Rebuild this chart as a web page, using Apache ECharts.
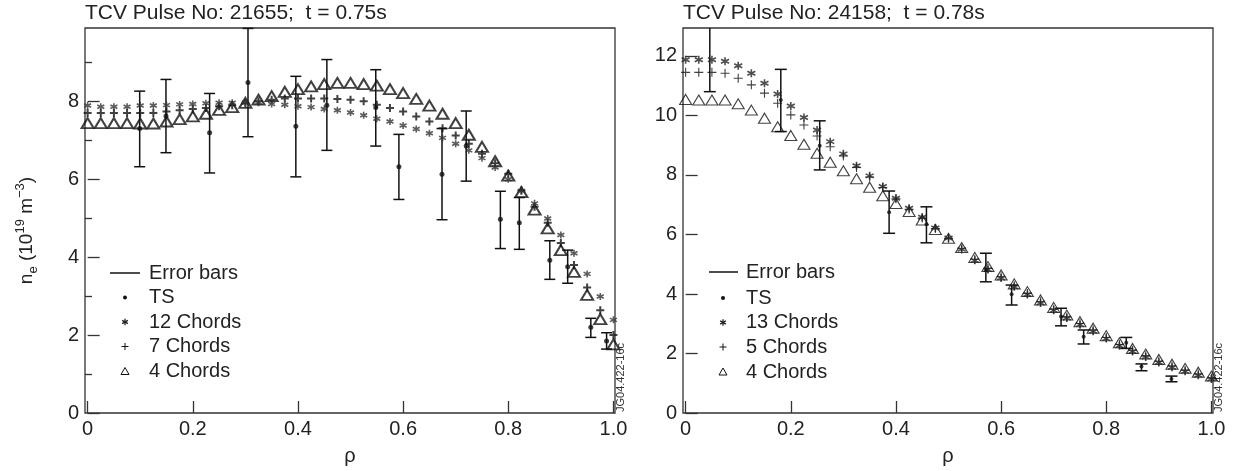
<!DOCTYPE html>
<html><head><meta charset="utf-8">
<script src="https://cdn.jsdelivr.net/npm/echarts@6/dist/echarts.min.js"></script>
<style>html,body{margin:0;padding:0;background:#fff}#c{width:1239px;height:471px}</style>
</head><body><div id="c"></div>
<script>
// ---------- data ----------
const rho = [0,0.025,0.05,0.075,0.1,0.125,0.15,0.175,0.2,0.225,0.25,0.275,0.3,0.325,0.35,0.375,0.4,0.425,0.45,0.475,0.5,0.525,0.55,0.575,0.6,0.625,0.65,0.675,0.7,0.725,0.75,0.775,0.8,0.825,0.85,0.875,0.9,0.925,0.95,0.975,1.0];

// Pulse 21655 (left)
const left12 = [7.89,7.86,7.86,7.86,7.89,7.89,7.9,7.92,7.93,7.95,7.96,7.96,7.97,7.96,7.93,7.91,7.87,7.85,7.8,7.77,7.71,7.64,7.55,7.48,7.38,7.29,7.18,7.06,6.91,6.74,6.54,6.3,6.0,5.7,5.38,4.99,4.57,4.1,3.57,2.99,2.39];
const left7 = [7.7,7.7,7.7,7.7,7.7,7.7,7.74,7.77,7.8,7.83,7.87,7.9,7.94,8.0,8.04,8.07,8.07,8.07,8.07,8.06,8.04,8.0,7.91,7.83,7.74,7.61,7.48,7.31,7.12,6.91,6.65,6.41,6.14,5.71,5.29,4.88,4.36,3.8,3.22,2.64,2.0];
const left4 = [7.44,7.44,7.44,7.44,7.43,7.43,7.48,7.54,7.61,7.68,7.78,7.85,7.96,8.04,8.13,8.24,8.31,8.38,8.44,8.47,8.47,8.44,8.4,8.31,8.21,8.06,7.89,7.68,7.44,7.14,6.83,6.46,6.09,5.67,5.22,4.74,4.18,3.62,3.03,2.41,1.76];
const leftTSrho = [0.099,0.149,0.232,0.305,0.396,0.455,0.548,0.592,0.674,0.72,0.785,0.821,0.879,0.913,0.957,0.987];
const leftTSval = [7.3,7.62,7.19,8.48,7.36,7.9,7.84,6.32,6.13,6.85,4.97,4.88,3.92,3.75,2.2,1.85];
const leftTSlo  = [6.32,6.68,6.16,7.09,6.06,6.74,6.85,5.48,4.96,5.95,4.22,4.2,3.43,3.33,1.94,1.64];
const leftTShi  = [8.26,8.56,8.2,9.87,8.64,9.07,8.81,7.15,7.3,7.75,5.69,5.53,4.42,4.18,2.43,2.06];

// Pulse 24158 (right)
const right13 = [11.87,11.87,11.87,11.82,11.67,11.42,11.08,10.72,10.32,9.93,9.51,9.12,8.71,8.31,7.97,7.61,7.22,6.88,6.58,6.22,5.88,5.5,5.13,4.82,4.54,4.24,3.98,3.7,3.45,3.19,2.97,2.75,2.5,2.26,2.07,1.88,1.7,1.54,1.4,1.27,1.14];
const right5 = [11.45,11.45,11.45,11.42,11.25,11.03,10.75,10.41,10.02,9.68,9.31,8.95,8.64,8.25,7.93,7.58,7.2,6.85,6.55,6.2,5.87,5.52,5.17,4.86,4.58,4.28,4.02,3.74,3.49,3.23,3.01,2.79,2.54,2.3,2.11,1.92,1.74,1.58,1.44,1.31,1.18];
const right4 = [10.54,10.52,10.52,10.52,10.39,10.18,9.91,9.62,9.33,9.03,8.73,8.43,8.14,7.87,7.59,7.3,7.04,6.77,6.49,6.17,5.87,5.56,5.23,4.92,4.64,4.34,4.08,3.8,3.55,3.29,3.07,2.85,2.6,2.36,2.17,1.98,1.8,1.64,1.5,1.37,1.24];
const rightTSrho = [0.046,0.181,0.255,0.387,0.458,0.571,0.62,0.714,0.757,0.838,0.867,0.924];
const rightTSval = [13.4,10.52,8.98,6.75,6.34,4.81,3.99,3.24,2.56,2.36,1.56,1.14];
const rightTSlo  = [10.8,9.46,8.17,6.04,5.72,4.41,3.63,2.93,2.32,2.17,1.42,1.05];
const rightTShi  = [16.0,11.55,9.82,7.46,6.93,5.37,4.3,3.52,2.79,2.54,1.65,1.24];

// tick labels / texts
const xTicks = [0,0.2,0.4,0.6,0.8,1.0];
const leftYTicks = [0,2,4,6,8];
const leftYMinor = [1,3,5,7,9];
const rightYTicks = [0,2,4,6,8,10,12];
const titles = ['TCV Pulse No: 21655;  t = 0.75s','TCV Pulse No: 24158;  t = 0.78s'];
const leftLegend = ['Error bars','TS','12 Chords','7 Chords','4 Chords'];
const rightLegend = ['Error bars','TS','13 Chords','5 Chords','4 Chords'];
const figCode = 'JG04.422-16c';

// ---------- chart ----------
const FONT = '"Liberation Sans", Arial, Helvetica, sans-serif';
const INK = '#222';
const ASTER = 'path://M5,0L5,10M0.67,2.5L9.33,7.5M0.67,7.5L9.33,2.5';
const PLUS = 'path://M5,0L5,10M0,5L10,5';

const pts = (xs, ys) => xs.map((x, i) => [x, ys[i]]);
const bars = (xs, lo, hi) => xs.map((x, i) => [x, lo[i], hi[i]]);

function errRender(capW) {
  return function (params, api) {
    const x = api.value(0), lo = api.value(1), hi = api.value(2);
    const a = api.coord([x, hi]), b = api.coord([x, lo]);
    const r = params.coordSys;
    const top = Math.max(a[1], r.y), bot = Math.min(b[1], r.y + r.height);
    const st = { stroke: '#111', lineWidth: 1.5 };
    const ch = [];
    if (bot > top) ch.push({ type: 'line', shape: { x1: a[0], y1: top, x2: a[0], y2: bot }, style: st });
    if (a[1] >= r.y - 0.6) ch.push({ type: 'line', shape: { x1: a[0] - capW / 2, y1: a[1], x2: a[0] + capW / 2, y2: a[1] }, style: st });
    if (b[1] >= r.y) ch.push({ type: 'line', shape: { x1: b[0] - capW / 2, y1: b[1], x2: b[0] + capW / 2, y2: b[1] }, style: st });
    return { type: 'group', children: ch };
  };
}

function xAxisDef(gi) {
  return {
    gridIndex: gi, type: 'value', min: -0.005, max: 1.003,
    axisLine: { show: false }, splitLine: { show: false },
    axisTick: { inside: true, length: 12, customValues: xTicks, lineStyle: { color: '#333', width: 1.3 } },
    axisLabel: { customValues: xTicks, margin: 6, fontSize: 20, color: INK, fontFamily: FONT,
      formatter: v => (v === 0 ? '0' : v.toFixed(1)) },
    name: 'ρ', nameLocation: 'middle', nameGap: 33,
    nameTextStyle: { fontSize: 20, color: INK, fontFamily: FONT }
  };
}

function legendEls(lx1, lx2, mx, tx, ys, labels) {
  const els = [];
  const st = { stroke: '#111', lineWidth: 1, fill: 'none' };
  els.push({ type: 'line', shape: { x1: lx1, y1: ys[0], x2: lx2, y2: ys[0] }, style: { stroke: '#111', lineWidth: 1.5 } });
  els.push({ type: 'circle', shape: { cx: mx, cy: ys[1], r: 2 }, style: { fill: '#111' } });
  const ar = 3.3;
  [90, 30, 150].forEach(d => {
    const t = d * Math.PI / 180;
    els.push({ type: 'line', shape: { x1: mx - ar * Math.cos(t), y1: ys[2] - ar * Math.sin(t), x2: mx + ar * Math.cos(t), y2: ys[2] + ar * Math.sin(t) }, style: { stroke: '#222', lineWidth: 1.3 } });
  });
  els.push({ type: 'line', shape: { x1: mx - 3.5, y1: ys[3], x2: mx + 3.5, y2: ys[3] }, style: st });
  els.push({ type: 'line', shape: { x1: mx, y1: ys[3] - 3.5, x2: mx, y2: ys[3] + 3.5 }, style: st });
  els.push({ type: 'polygon', shape: { points: [[mx - 4, ys[4] + 3], [mx + 4, ys[4] + 3], [mx, ys[4] - 4]] }, style: st });
  labels.forEach((t, i) => {
    els.push({ type: 'text', x: tx, y: ys[i], style: { text: t, fontSize: 20, fontFamily: FONT, fill: INK, align: 'left', verticalAlign: 'middle' } });
  });
  return els;
}

const yName = '{a|n}{b|e}{a| (10}{c|19}{a| m}{c|−3}{a|)}';
const yRich = {
  a: { fontSize: 19, fontFamily: FONT, color: INK, lineHeight: 26 },
  b: { fontSize: 13, fontFamily: FONT, color: INK, lineHeight: 26, verticalAlign: 'bottom' },
  c: { fontSize: 13, fontFamily: FONT, color: INK, lineHeight: 26, verticalAlign: 'top' }
};

const chart = echarts.init(document.getElementById('c'));
chart.setOption({
  animation: false,
  backgroundColor: '#fff',
  title: titles.map((t, i) => ({
    text: t, left: i === 0 ? 85 : 683, top: 3, padding: 0,
    textStyle: { fontSize: 21, fontWeight: 'normal', color: INK, fontFamily: FONT }
  })),
  grid: [
    { left: 85, top: 28, width: 530, height: 385, show: true, borderColor: '#333', borderWidth: 1.3, backgroundColor: 'transparent' },
    { left: 683, top: 28, width: 530, height: 385, show: true, borderColor: '#333', borderWidth: 1.3, backgroundColor: 'transparent' }
  ],
  xAxis: [xAxisDef(0), xAxisDef(1)],
  yAxis: [
    { gridIndex: 0, type: 'value', min: 0, max: 9.88, position: 'left',
      axisLine: { show: false }, splitLine: { show: false },
      axisTick: { inside: true, length: 12, customValues: leftYTicks, lineStyle: { color: '#333', width: 1.3 } },
      axisLabel: { customValues: leftYTicks, margin: 6, fontSize: 20, color: INK, fontFamily: FONT },
      name: yName, nameLocation: 'middle', nameGap: 45,
      nameTextStyle: { rich: yRich, padding: [0, 20, 0, 0] } },
    { gridIndex: 0, type: 'value', min: 0, max: 9.88, position: 'left', offset: 0,
      axisLine: { show: false }, splitLine: { show: false }, axisLabel: { show: false },
      axisTick: { inside: true, length: 7, customValues: leftYMinor, lineStyle: { color: '#333', width: 1.3 } } },
    { gridIndex: 1, type: 'value', min: 0, max: 12.94, position: 'left',
      axisLine: { show: false }, splitLine: { show: false },
      axisTick: { inside: true, length: 12, customValues: rightYTicks, lineStyle: { color: '#333', width: 1.3 } },
      axisLabel: { customValues: rightYTicks, margin: 6, fontSize: 20, color: INK, fontFamily: FONT } }
  ],
  series: [
    { name: '4 Chords', type: 'scatter', xAxisIndex: 0, yAxisIndex: 0, silent: true, data: pts(rho, left4),
      symbol: 'triangle', symbolSize: [12, 10], itemStyle: { color: 'transparent', borderColor: '#111', borderWidth: 2 } },
    { name: '7 Chords', type: 'scatter', xAxisIndex: 0, yAxisIndex: 0, silent: true, data: pts(rho, left7),
      symbol: PLUS, symbolSize: 8, itemStyle: { color: 'transparent', borderColor: '#111', borderWidth: 2 } },
    { name: '12 Chords', type: 'scatter', xAxisIndex: 0, yAxisIndex: 0, silent: true, data: pts(rho, left12),
      symbol: ASTER, symbolSize: 7, itemStyle: { color: 'transparent', borderColor: '#333', borderWidth: 1.6 } },
    { name: 'TS', type: 'scatter', xAxisIndex: 0, yAxisIndex: 0, silent: true, data: pts(leftTSrho, leftTSval),
      symbol: 'circle', symbolSize: 5, itemStyle: { color: '#111' } },
    { name: 'Error bars', type: 'custom', xAxisIndex: 0, yAxisIndex: 0, silent: true,
      data: bars(leftTSrho, leftTSlo, leftTShi), renderItem: errRender(11) },

    { name: '4 Chords ', type: 'scatter', xAxisIndex: 1, yAxisIndex: 2, silent: true, data: pts(rho, right4),
      symbol: 'triangle', symbolSize: [12, 10], itemStyle: { color: 'transparent', borderColor: '#111', borderWidth: 1.1 } },
    { name: '5 Chords', type: 'scatter', xAxisIndex: 1, yAxisIndex: 2, silent: true, data: pts(rho, right5),
      symbol: PLUS, symbolSize: 9, itemStyle: { color: 'transparent', borderColor: '#111', borderWidth: 1.1 } },
    { name: '13 Chords', type: 'scatter', xAxisIndex: 1, yAxisIndex: 2, silent: true, data: pts(rho, right13),
      symbol: ASTER, symbolSize: 8, itemStyle: { color: 'transparent', borderColor: '#222', borderWidth: 1.6 } },
    { name: 'TS ', type: 'scatter', xAxisIndex: 1, yAxisIndex: 2, silent: true, data: pts(rightTSrho, rightTSval),
      symbol: 'circle', symbolSize: 4, itemStyle: { color: '#111' } },
    { name: 'Error bars ', type: 'custom', xAxisIndex: 1, yAxisIndex: 2, silent: true,
      data: bars(rightTSrho, rightTSlo, rightTShi), renderItem: errRender(12) }
  ],
  graphic: [
    ...legendEls(110, 140, 125, 149, [273, 297.5, 322, 346.5, 371.5], leftLegend),
    ...legendEls(709, 738, 723, 746, [272, 298, 322.5, 347, 372], rightLegend),
    { type: 'text', x: 626, y: 412, rotation: Math.PI / 2,
      style: { text: figCode, fontSize: 11, fontFamily: FONT, fill: '#333', align: 'left', verticalAlign: 'bottom' } },
    { type: 'text', x: 1224, y: 412, rotation: Math.PI / 2,
      style: { text: figCode, fontSize: 11, fontFamily: FONT, fill: '#333', align: 'left', verticalAlign: 'bottom' } }
  ]
});
</script></body></html>
